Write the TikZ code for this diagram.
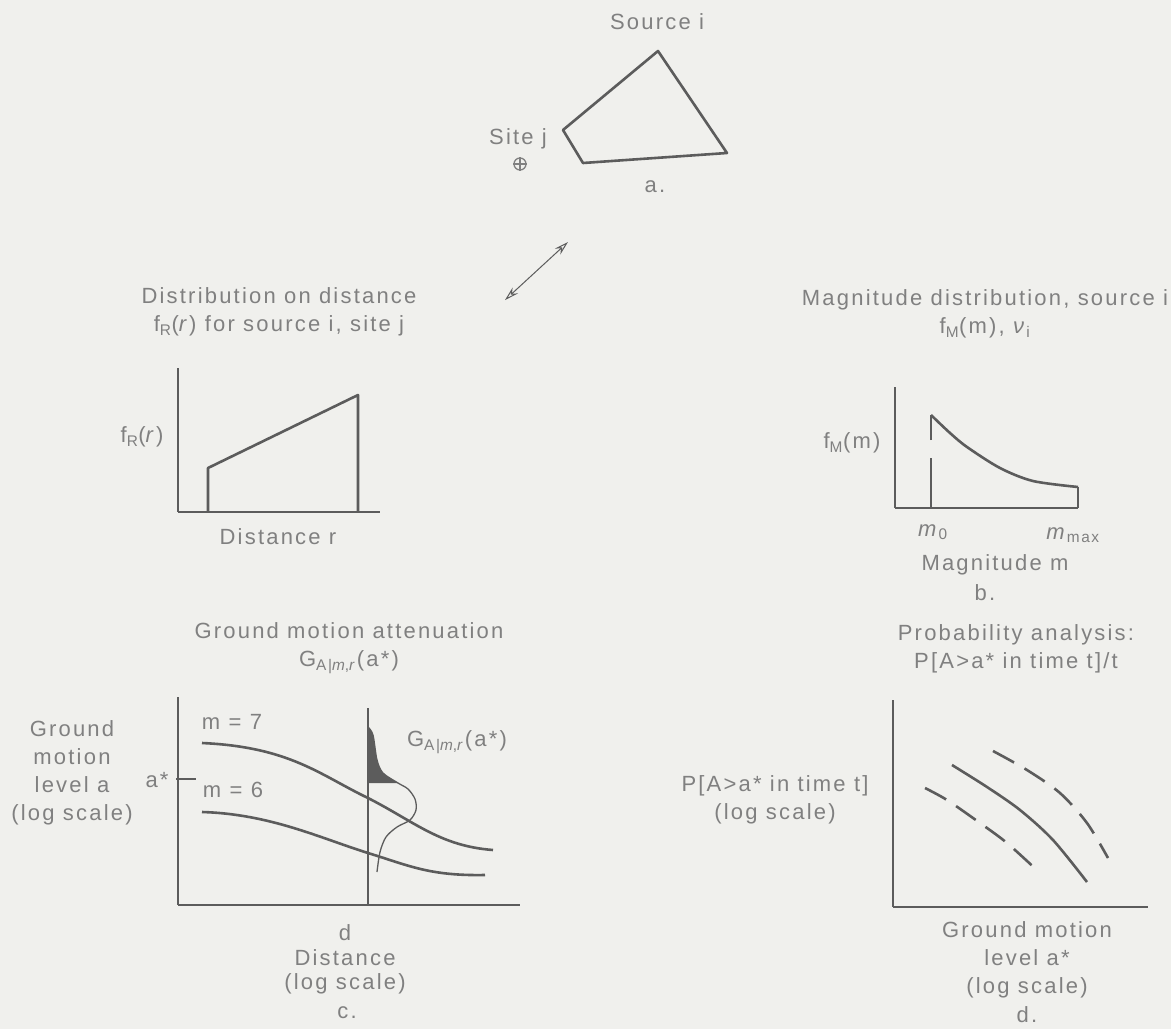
\documentclass[tikz,border=0pt]{standalone}
\usepackage{fontspec}
\setmainfont{Liberation Sans}[LetterSpace=10]
\usetikzlibrary{arrows.meta}
\definecolor{bg}{RGB}{240,240,237}
\definecolor{txt}{RGB}{128,128,128}
\definecolor{ln}{RGB}{92,92,92}
\begin{document}
\begin{tikzpicture}[x=1pt,y=-1pt,
  every node/.style={font=\fontsize{22}{28}\selectfont, text=txt, inner sep=0pt},
  lbl/.style={align=center},
  axisline/.style={draw=ln, line width=1.4pt},
  xaxisline/.style={draw=ln, line width=2.2pt},
  curveline/.style={draw=ln, line width=2.6pt, line join=round},
  thinline/.style={draw=ln, line width=1.3pt},
  dashcurve/.style={curveline, dash pattern=on 24pt off 12pt},
  tipstyle/.style={line width=1pt, {Stealth[open,length=14pt,width=8pt]}-{Stealth[open,length=14pt,width=8pt]}}
]
\fill[bg] (0,0) rectangle (1171,1029);
\path[use as bounding box] (0,0) rectangle (1171,1029);

% ---- a. source / site sketch
\node (source) at (657,22) {Source i};
\draw[curveline] (658,51) -- (727,153) -- (583,163) -- (563,130) -- cycle;
\node (site) at (518,139) {Site j};
\node[circle, draw=txt, line width=1.3pt, minimum size=12pt] (sitesym) at (520,164) {};
\draw[txt, line width=1.3pt] (sitesym.north) -- (sitesym.south) (sitesym.west) -- (sitesym.east);
\node (labA) at (655,187) {a.};
\coordinate (arrTop) at (568,242);
\coordinate (arrBot) at (505,300);
\draw[ln, tipstyle] (arrTop) -- (arrBot);

% ---- distance distribution
\node[lbl] (titleR) at (279,312) {Distribution on distance\\f\textsubscript{R}(\textit{r}) for source i, site j};
\draw[axisline] (178,368) -- (178,512);
\draw[xaxisline] (178,512) -- (380,512);
\draw[curveline] (208,512) -- (208,468) -- (358,395) -- (358,512);
\node (fR) at (142,437) {f\textsubscript{R}(\textit{r})};
\node (distR) at (278,537) {Distance r};

% ---- b. magnitude distribution
\node[lbl] (titleM) at (985,314) {Magnitude distribution, source i\\f\textsubscript{M}(m), \textit{ν}\textsubscript{i}};
\draw[axisline] (895,387) -- (895,508);
\draw[xaxisline] (895,508) -- (1078,508);
\draw[curveline] (931,508) -- (931,458);
\draw[curveline] (931,440) -- (931,415);
\draw[curveline] plot[smooth] coordinates {(931,415) (950,433) (967,447) (1000,468) (1033,481) (1078,487)};
\draw[curveline] (1078,487) -- (1078,508);
\node (fM) at (852,443) {f\textsubscript{M}(m)};
\node (m0) at (933,532) {\textit{m}\textsubscript{0}};
\node (mmax) at (1073,535) {\textit{m}\textsubscript{max}};
\node (magM) at (995,565) {Magnitude m};
\node (labB) at (985,593) {b.};

% ---- c. attenuation
\node[lbl] (titleG) at (349,648) {Ground motion attenuation\\G\textsubscript{A|\textit{m},\textit{r}}(a*)};
\draw[axisline] (178,697) -- (178,905);
\draw[xaxisline] (178,905) -- (520,905);
\draw[thinline] (368,708) -- (368,905);
\draw[thinline] (176,779) -- (196,779);
\draw[curveline] (202,743) .. controls (290,747) and (320,775) .. (368,798)
                 .. controls (415,822) and (440,846) .. (493,850);
\draw[curveline] (202,812) .. controls (270,814) and (320,838) .. (368,853)
                 .. controls (410,866) and (430,876) .. (485,875);
\fill[ln] plot[smooth] coordinates {(368,727) (373,735) (377,760) (383,773) (398,783)} -- (368,783) -- cycle;
\draw[thinline] plot[smooth] coordinates {(368,727) (373,735) (377,760) (383,773) (398,783) (408,789) (415,799) (416,810) (410,820) (397,827) (386,837) (380,852) (377,872)};
\node[lbl] (ylabC) at (72,773) {Ground\\motion\\level a\\(log scale)};
\node (astar) at (157,780) {a*};
\node (m7) at (232,722) {m = 7};
\node (m6) at (233,790) {m = 6};
\node (Gright) at (457,742) {G\textsubscript{A|\textit{m},\textit{r}}(a*)};
\node (dlab) at (345,933) {d};
\node (distC) at (345,958) {Distance};
\node (logC) at (345,984) {(log scale)};
\node (labC) at (347,1013) {c.};

% ---- d. probability analysis
\node[lbl] (titleP) at (1016,649) {Probability analysis:\\P[A>a* in time t]/t};
\draw[axisline] (893,700) -- (893,907);
\draw[xaxisline] (893,907) -- (1148,907);
\draw[dashcurve] plot[smooth] coordinates {(925,788) (947,800) (980,823) (1007,843) (1040,873)};
\draw[curveline] plot[smooth] coordinates {(952,765) (987,787) (1020,810) (1053,840) (1087,882)};
\draw[dashcurve] plot[smooth] coordinates {(993,751) (1027,770) (1060,793) (1087,823) (1108,858)};
\node[lbl] (ylabD) at (775,800) {P[A>a* in time t]\\(log scale)};
\node[lbl] (xlabD) at (1027,960) {Ground motion\\level a*\\(log scale)};
\node (labD) at (1027,1015) {d.};
\end{tikzpicture}
\end{document}
